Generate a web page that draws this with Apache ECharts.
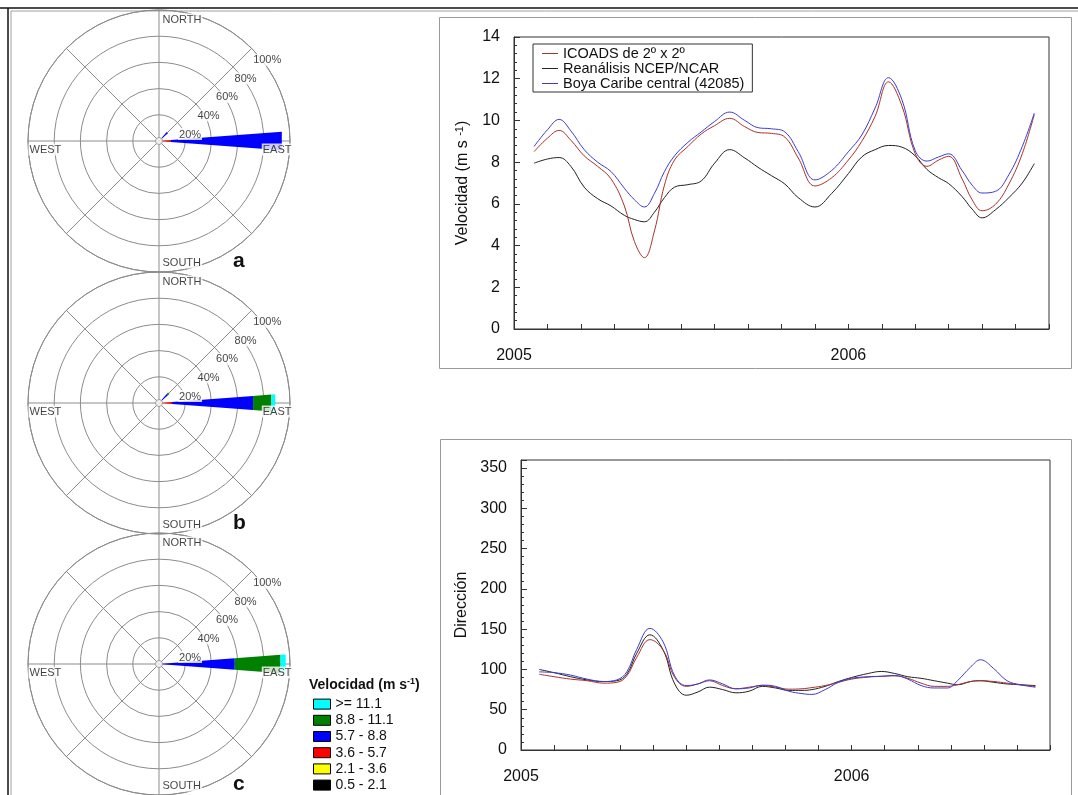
<!DOCTYPE html>
<html>
<head>
<meta charset="utf-8">
<title>Viento en el Caribe central</title>
<script src="https://cdn.jsdelivr.net/npm/echarts@6/dist/echarts.min.js"></script>
<style>
  html, body { margin: 0; padding: 0; background: #fff; }
  #chart { width: 1078px; height: 795px; }
</style>
</head>
<body>
<div id="chart"></div>
<script>
// ---- wind roses: frequency (%) per speed class, slowest class first ----
const speedClasses = ['0.5 - 2.1', '2.1 - 3.6', '3.6 - 5.7', '5.7 - 8.8', '8.8 - 11.1', '>= 11.1'];
const roseSectors = [45, 90];                 // bearing of each drawn sector (NE, E)
const roseA = [[0, 0, 3, 6, 0, 0], [0, 0, 9, 85, 0, 0]];
const roseB = [[0, 0, 3, 6, 1.5, 0], [0, 0, 10, 62, 14, 3]];
const roseC = [[0, 0, 0, 0, 0, 0], [0, 0, 2, 56, 35, 4]];
const roseLetters = ['a', 'b', 'c'];
const ringTicks = [20, 40, 60, 80, 100];
const compassNames = ['NORTH', 'EAST', 'SOUTH', 'WEST'];
const compassBearings = [0, 90, 180, 270];

// ---- wind speed series (m/s) ----
const speedT = [2005.06, 2005.10, 2005.135, 2005.17, 2005.21, 2005.25, 2005.29, 2005.33, 2005.36, 2005.39,
  2005.42, 2005.45, 2005.48, 2005.52, 2005.56, 2005.60, 2005.645, 2005.69, 2005.73, 2005.77,
  2005.81, 2005.85, 2005.90, 2005.95, 2006.00, 2006.04, 2006.08, 2006.12, 2006.16, 2006.20,
  2006.235, 2006.27, 2006.30, 2006.34, 2006.37, 2006.40, 2006.44, 2006.48, 2006.52, 2006.556];
const speedIcoads = [8.5, 9.15, 9.52, 9.05, 8.3, 7.8, 7.2, 5.9, 4.2, 3.42,
  4.7, 6.9, 8.1, 8.75, 9.35, 9.75, 10.1, 9.7, 9.42, 9.38,
  9.2, 8.2, 6.86, 7.25, 8.1, 9.0, 10.2, 11.85, 10.7, 8.4,
  7.8, 8.1, 8.28, 7.2, 6.2, 5.67, 5.98, 6.95, 8.4, 10.28];
const speedNcep = [7.95, 8.15, 8.22, 7.8, 6.8, 6.25, 5.9, 5.45, 5.25, 5.14,
  5.6, 6.3, 6.8, 6.92, 7.1, 7.95, 8.6, 8.2, 7.75, 7.35,
  6.95, 6.3, 5.85, 6.5, 7.45, 8.25, 8.6, 8.8, 8.72, 8.3,
  7.65, 7.25, 6.97, 6.35, 5.75, 5.33, 5.72, 6.3, 7.0, 7.93];
const speedBuoy = [8.75, 9.55, 10.05, 9.5, 8.6, 8.0, 7.55, 6.75, 6.2, 5.85,
  6.5, 7.55, 8.3, 8.95, 9.45, 9.95, 10.4, 10.0, 9.65, 9.6,
  9.45, 8.5, 7.15, 7.6, 8.5, 9.3, 10.6, 12.05, 11.0, 8.55,
  8.05, 8.25, 8.4, 7.6, 6.9, 6.52, 6.6, 7.4, 8.75, 10.35];

// ---- wind direction series (degrees) ----
const dirT = [2005.055, 2005.10, 2005.15, 2005.20, 2005.25, 2005.29, 2005.32, 2005.35, 2005.39, 2005.43,
  2005.465, 2005.50, 2005.535, 2005.57, 2005.61, 2005.65, 2005.69, 2005.73, 2005.77, 2005.81,
  2005.85, 2005.88, 2005.92, 2005.96, 2006.00, 2006.05, 2006.09, 2006.13, 2006.17, 2006.21,
  2006.25, 2006.29, 2006.32, 2006.36, 2006.39, 2006.43, 2006.47, 2006.51, 2006.556];
const dirIcoads = [94, 91, 88, 86, 83, 84, 92, 115, 137, 124,
  90, 79, 82, 86, 80, 76, 78, 80, 78, 75.5,
  76, 77.5, 80, 84, 88, 90.5, 91.5, 92, 89, 83,
  79, 79, 81, 85, 86, 85, 83, 81, 79];
const dirNcep = [100, 96, 91, 87, 85, 86, 94, 120, 143, 124,
  82, 68, 72, 78, 75, 71, 73, 79, 77, 74,
  74, 75, 79, 85, 90, 95, 97.5, 95, 91, 89,
  86, 83, 81, 85, 86, 84, 82, 81, 80];
const dirBuoy = [97, 96, 93, 88, 85, 87, 97, 125, 151, 134,
  92, 80, 82, 87, 82, 76, 77, 80.5, 79, 73,
  70, 69, 75, 84, 89, 91, 91.5, 92.5, 88, 80,
  77, 77, 86, 103, 112, 101, 86, 81, 78];

const lineNames = ['ICOADS de 2º x 2º', 'Reanálisis NCEP/NCAR', 'Boya Caribe central (42085)'];

// ---- styling ----
const FONT = "'Liberation Sans', Arial, sans-serif";
const classColors = ['#000000', '#ffff00', '#ff0000', '#0000ff', '#008000', '#00ffff'];
const lineColors = ['#a8322d', '#222222', '#3c3cd2'];
const GRID_GRAY = '#8c8c8c';
const SECTOR_HALF = 4.3;            // half width of a wedge, degrees
const roseCenters = [[159, 141], [159, 403], [159, 664]];
const ROSE_RADIUS = 131;

const roses = [roseA, roseB, roseC];

const polar = [], angleAxis = [], radiusAxis = [], series = [], title = [];

function wedgeItem(params, api) {
  const b = api.value(0), r0 = api.value(1), r1 = api.value(2);
  if (!(r1 > r0)) return null;
  const pts = [[r0, b - SECTOR_HALF], [r1, b - SECTOR_HALF], [r1, b + SECTOR_HALF], [r0, b + SECTOR_HALF]]
    .map(p => api.coord(p));
  return { type: 'polygon', shape: { points: pts }, style: api.style() };
}

roses.forEach((rose, ri) => {
  polar.push({ center: roseCenters[ri], radius: ROSE_RADIUS });
  angleAxis.push({
    polarIndex: ri, type: 'value', min: 0, max: 360, interval: 45,
    startAngle: 90, clockwise: true,
    axisLine: { lineStyle: { color: GRID_GRAY, width: 1 } },
    axisTick: { show: false }, axisLabel: { show: false },
    splitLine: { lineStyle: { color: GRID_GRAY, width: 1 } }
  });
  radiusAxis.push({
    polarIndex: ri, type: 'value', min: 0, max: 100, interval: 20,
    axisLine: { show: false }, axisTick: { show: false }, axisLabel: { show: false },
    splitLine: { lineStyle: { color: GRID_GRAY, width: 1 } }
  });

  // stacked wedges, one series per speed class
  const cumulative = roseSectors.map(() => 0);
  speedClasses.forEach((cls, ci) => {
    const data = roseSectors.map((bearing, si) => {
      const r0 = cumulative[si];
      const r1 = r0 + rose[si][ci];
      cumulative[si] = r1;
      return [bearing, r0, r1];
    });
    series.push({
      type: 'custom', name: cls, coordinateSystem: 'polar', polarIndex: ri,
      encode: { angle: 0, radius: [1, 2] },
      itemStyle: { color: classColors[ci] },
      renderItem: wedgeItem, data: data, z: 3, silent: true
    });
  });

  // compass names and ring percentages
  const labelData = [];
  const compassLabel = [
    { position: [3, 4], align: 'left', verticalAlign: 'top' },
    { position: [3, 3], align: 'right', verticalAlign: 'top' },
    { position: [3, -3], align: 'left', verticalAlign: 'bottom' },
    { position: [1, 3], align: 'left', verticalAlign: 'top' }
  ];
  compassNames.forEach((n, k) => {
    labelData.push({ value: [100, compassBearings[k]], name: n, label: compassLabel[k] });
  });
  ringTicks.forEach(t => {
    labelData.push({ value: [t, 45], name: t + '%',
      label: { position: [1, 6], align: 'left', verticalAlign: 'top' } });
  });
  series.push({
    type: 'scatter', name: 'rosa-etiquetas-' + ri, coordinateSystem: 'polar', polarIndex: ri,
    symbolSize: 1, itemStyle: { color: 'rgba(0,0,0,0)' }, silent: true, z: 5,
    label: {
      show: true, formatter: '{b}', color: '#111', fontSize: 11, fontFamily: FONT,
      backgroundColor: '#fff', padding: [1, 1, 0, 1]
    },
    data: labelData
  });
  // calm circle at the centre
  series.push({
    type: 'scatter', name: 'calma-' + ri, coordinateSystem: 'polar', polarIndex: ri,
    symbolSize: 7, silent: true, z: 6,
    itemStyle: { color: '#fff', borderColor: GRID_GRAY, borderWidth: 1 },
    data: [[0, 0]]
  });

  title.push({
    text: roseLetters[ri], left: 233, top: roseCenters[ri][1] + 110, padding: 0,
    textStyle: { fontSize: 21, fontWeight: 'bold', color: '#111', fontFamily: FONT }
  });
});

title.push({
  text: '{t|Velocidad (m s}{sup|-1}{t|)}', left: 309, top: 677, padding: 0,
  textStyle: {
    rich: {
      t: { fontSize: 14, fontWeight: 'bold', color: '#111', fontFamily: FONT, lineHeight: 17 },
      sup: { fontSize: 9, fontWeight: 'bold', color: '#111', fontFamily: FONT, verticalAlign: 'top', lineHeight: 10 }
    }
  }
});

// ---- time series ----
function yearLabel(v) {
  const y = Math.round(v * 10) / 10;
  return Math.abs(y - Math.round(y)) < 1e-6 ? String(Math.round(y)) : '';
}
const axisColor = '#333';
function timeAxis(gi) {
  return {
    gridIndex: gi, type: 'value', min: 2005, max: 2006.6, interval: 0.1,
    axisLine: { lineStyle: { color: axisColor } },
    axisTick: { inside: true, length: 5, lineStyle: { color: axisColor } },
    axisLabel: { formatter: yearLabel, fontSize: 16, color: '#111', fontFamily: FONT, margin: 19 },
    splitLine: { show: false }
  };
}

const grid = [
  { left: 514, top: 37, width: 535, height: 292, show: true, borderColor: axisColor, borderWidth: 1, backgroundColor: 'transparent' },
  { left: 521, top: 460, width: 529, height: 290, show: true, borderColor: axisColor, borderWidth: 1, backgroundColor: 'transparent' }
];
const xAxis = [timeAxis(0), timeAxis(1)];
const yAxis = [
  {
    gridIndex: 0, type: 'value', min: 0, max: 14, interval: 2,
    name: 'Velocidad (m s {sup|-1})', nameLocation: 'middle', nameGap: 42, nameRotate: 90,
    nameTextStyle: {
      fontSize: 16, color: '#111', fontFamily: FONT,
      rich: { sup: { fontSize: 11, color: '#111', fontFamily: FONT, verticalAlign: 'top', padding: [0, 0, 7, 0] } }
    },
    axisLine: { lineStyle: { color: axisColor } },
    axisTick: { inside: true, length: 6, lineStyle: { color: axisColor } },
    minorTick: { show: true, splitNumber: 5, length: 3, lineStyle: { color: axisColor } },
    axisLabel: { fontSize: 16, color: '#111', fontFamily: FONT, margin: 14 },
    splitLine: { show: false }
  },
  {
    gridIndex: 1, type: 'value', min: 0, max: 360, interval: 50,
    name: 'Dirección', nameLocation: 'middle', nameGap: 51, nameRotate: 90,
    nameTextStyle: { fontSize: 16, color: '#111', fontFamily: FONT },
    axisLine: { lineStyle: { color: axisColor } },
    axisTick: { inside: true, length: 6, lineStyle: { color: axisColor } },
    minorTick: { show: true, splitNumber: 5, length: 3, lineStyle: { color: axisColor } },
    axisLabel: { fontSize: 16, color: '#111', fontFamily: FONT, margin: 14, showMaxLabel: false },
    splitLine: { show: false }
  }
];

function lineSeries(name, t, v, gi, color) {
  return {
    type: 'line', name: name, xAxisIndex: gi, yAxisIndex: gi,
    data: t.map((x, i) => [x, v[i]]),
    showSymbol: false, smooth: 0.4, silent: true,
    lineStyle: { color: color, width: 1 }, itemStyle: { color: color }
  };
}
series.push(lineSeries(lineNames[1], speedT, speedNcep, 0, lineColors[1]));
series.push(lineSeries(lineNames[0], speedT, speedIcoads, 0, lineColors[0]));
series.push(lineSeries(lineNames[2], speedT, speedBuoy, 0, lineColors[2]));
series.push(lineSeries(lineNames[1], dirT, dirNcep, 1, lineColors[1]));
series.push(lineSeries(lineNames[0], dirT, dirIcoads, 1, lineColors[0]));
series.push(lineSeries(lineNames[2], dirT, dirBuoy, 1, lineColors[2]));

const legend = [
  {
    data: speedClasses.slice().reverse(), orient: 'vertical', left: 313, top: 697,
    icon: 'rect', itemWidth: 17, itemHeight: 10, itemGap: 2, padding: 0,
    itemStyle: { borderColor: '#000', borderWidth: 1 },
    textStyle: { fontSize: 14, color: '#111', fontFamily: FONT, lineHeight: 14.2 },
    selectedMode: false
  },
  {
    data: lineNames, orient: 'vertical', left: 533, top: 44,
    icon: 'rect', itemWidth: 16, itemHeight: 1, itemGap: 0, padding: [2, 8, 1, 9],
    backgroundColor: '#fff', borderColor: '#333', borderWidth: 1,
    textStyle: { fontSize: 14.5, color: '#111', fontFamily: FONT, lineHeight: 15 },
    selectedMode: false
  }
];

const graphic = [
  { type: 'line', shape: { x1: 0, y1: 8, x2: 1078, y2: 8 }, style: { stroke: '#111', lineWidth: 1.5 } },
  { type: 'line', shape: { x1: 11, y1: 11, x2: 1078, y2: 11 }, style: { stroke: '#a0a0a0', lineWidth: 1 } },
  { type: 'line', shape: { x1: 8, y1: 8, x2: 8, y2: 795 }, style: { stroke: '#111', lineWidth: 1.5 } },
  { type: 'line', shape: { x1: 11, y1: 11, x2: 11, y2: 795 }, style: { stroke: '#a0a0a0', lineWidth: 1 } },
  { type: 'rect', shape: { x: 439.5, y: 17.5, width: 632, height: 351 }, style: { fill: 'none', stroke: '#9a9a9a', lineWidth: 1 } },
  { type: 'rect', shape: { x: 440.5, y: 439.5, width: 631, height: 370 }, style: { fill: 'none', stroke: '#9a9a9a', lineWidth: 1 } }
];

const chart = echarts.init(document.getElementById('chart'), null, { renderer: 'canvas' });
chart.setOption({
  backgroundColor: '#fff',
  animation: false,
  title: title,
  legend: legend,
  polar: polar,
  angleAxis: angleAxis,
  radiusAxis: radiusAxis,
  grid: grid,
  xAxis: xAxis,
  yAxis: yAxis,
  graphic: graphic,
  series: series
});
</script>
</body>
</html>
